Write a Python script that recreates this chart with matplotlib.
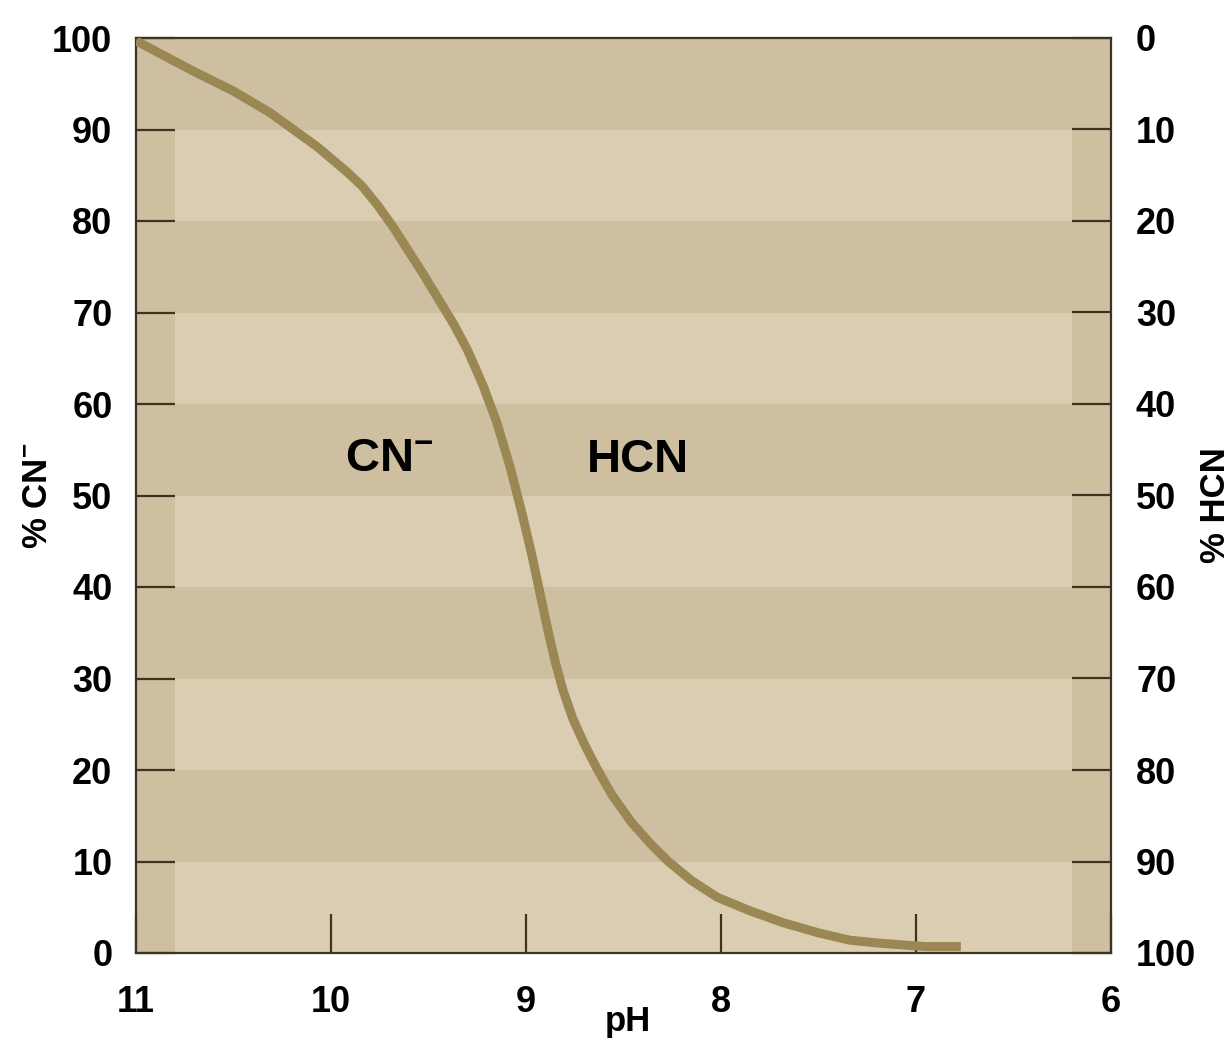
import matplotlib.pyplot as plt

plt.rcParams['font.family'] = ['Liberation Sans', 'DejaVu Sans']
plt.rcParams['font.weight'] = 'bold'
plt.rcParams['mathtext.fontset'] = 'custom'
plt.rcParams['mathtext.rm'] = 'Liberation Sans:bold'
plt.rcParams['mathtext.bf'] = 'Liberation Sans:bold'

# curve: pH vs % CN-
ph = [11.0, 10.85, 10.69, 10.5, 10.31, 10.07, 9.92, 9.84, 9.76, 9.68, 9.53,
      9.37, 9.30, 9.22, 9.15, 9.08, 9.02, 8.97, 8.93, 8.89, 8.85, 8.81,
      8.76, 8.70, 8.64, 8.56, 8.46, 8.36, 8.27, 8.15, 8.02, 7.85, 7.68,
      7.5, 7.34, 7.2, 7.08, 6.95, 6.77]
pct_cn = [99.7, 98.0, 96.2, 94.2, 91.8, 88.1, 85.4, 83.8, 81.7, 79.3, 74.3,
          68.7, 65.9, 62.0, 58.0, 53.0, 48.0, 43.5, 39.5, 35.5, 31.8, 28.7,
          25.6, 22.8, 20.3, 17.3, 14.3, 11.9, 10.0, 7.9, 6.1, 4.6, 3.3,
          2.2, 1.4, 1.1, 0.9, 0.7, 0.7]

yticks = [0, 10, 20, 30, 40, 50, 60, 70, 80, 90, 100]
xticks = [11, 10, 9, 8, 7, 6]
light_bands = [(0, 10), (20, 30), (40, 50), (60, 70), (80, 90)]
band_x = (10.8, 6.2)

dark = '#cdbf9f'
light = '#dbcdb1'
edge = '#3e3322'

fig = plt.figure(figsize=(12.25, 10.4), dpi=100)
ax = fig.add_axes([136 / 1225, 87 / 1040, 975 / 1225, 915 / 1040])
ax.set_facecolor(dark)

for lo, hi in light_bands:
    ax.fill_between(band_x, lo, hi, color=light, lw=0, zorder=0)

ax.plot(ph, pct_cn, color='#9a8753', lw=6.5, solid_capstyle='butt',
        solid_joinstyle='round', zorder=3)

ax.set_xlim(11, 6)
ax.set_ylim(0, 100)
ax.set_xticks(xticks)
ax.set_yticks(yticks)
ax.tick_params(axis='both', direction='in', length=28, width=1.6, color=edge,
               labelsize=26)
ax.tick_params(axis='x', pad=23)
ax.tick_params(axis='y', pad=17)
for s in ax.spines.values():
    s.set_color(edge)
    s.set_linewidth(1.6)

ax2 = ax.twinx()
ax2.set_ylim(100, 0)
ax2.set_yticks(yticks)
ax2.tick_params(axis='y', direction='in', length=28, width=1.6, color=edge,
                labelsize=26, pad=18)
for s in ax2.spines.values():
    s.set_visible(False)

ax.text(-0.101, 0.50, '% CN$^{-}$', transform=ax.transAxes, rotation=90,
        ha='center', va='center', fontsize=25, fontweight='bold')
ax.text(1.107, 0.49, '% HCN', transform=ax.transAxes, rotation=90,
        ha='center', va='center', fontsize=25, fontweight='bold')
ax.text(0.504, -0.075, 'pH', transform=ax.transAxes,
        ha='center', va='center', fontsize=25, fontweight='bold')

ax.text(9.93, 52.7, 'CN$^{-}$', ha='left', va='baseline', fontsize=34,
        fontweight='bold', zorder=4)
ax.text(8.426, 52.6, 'HCN', ha='center', va='baseline', fontsize=34,
        fontweight='bold', zorder=4)

fig.savefig('out.png', dpi=100)
